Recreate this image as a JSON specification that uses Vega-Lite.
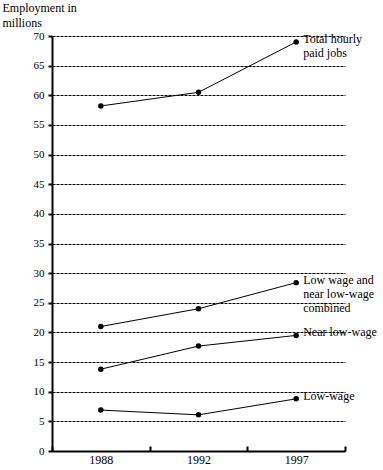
{
  "$schema": "https://vega.github.io/schema/vega-lite/v6.json",
  "width": 293,
  "height": 415,
  "autosize": {"type": "none"},
  "padding": {"left": 52, "top": 36, "right": 38, "bottom": 19},
  "background": "white",
  "config": {
    "view": {"stroke": null},
    "font": "Liberation Serif",
    "axis": {"labelFont": "Liberation Serif", "titleFont": "Liberation Serif", "labelColor": "black", "titleColor": "black", "domainColor": "black", "tickColor": "black"}
  },
  "data": {
    "values": [
      {"year": "1988", "series": "Total hourly paid jobs", "label": "Total hourly|paid jobs", "value": 58.2},
      {"year": "1992", "series": "Total hourly paid jobs", "label": "Total hourly|paid jobs", "value": 60.5},
      {"year": "1997", "series": "Total hourly paid jobs", "label": "Total hourly|paid jobs", "value": 69.0},
      {"year": "1988", "series": "Low wage and near low-wage combined", "label": "Low wage and|near low-wage|combined", "value": 21.0},
      {"year": "1992", "series": "Low wage and near low-wage combined", "label": "Low wage and|near low-wage|combined", "value": 24.0},
      {"year": "1997", "series": "Low wage and near low-wage combined", "label": "Low wage and|near low-wage|combined", "value": 28.4},
      {"year": "1988", "series": "Near low-wage", "label": "Near low-wage", "value": 13.8},
      {"year": "1992", "series": "Near low-wage", "label": "Near low-wage", "value": 17.7},
      {"year": "1997", "series": "Near low-wage", "label": "Near low-wage", "value": 19.5},
      {"year": "1988", "series": "Low-wage", "label": "Low-wage", "value": 6.9},
      {"year": "1992", "series": "Low-wage", "label": "Low-wage", "value": 6.1},
      {"year": "1997", "series": "Low-wage", "label": "Low-wage", "value": 8.8}
    ]
  },
  "encoding": {
    "x": {
      "field": "year", "type": "ordinal",
      "scale": {"paddingInner": 0, "paddingOuter": 0},
      "axis": {"title": null, "labelAngle": 0, "tickBand": "extent", "tickSize": -5, "domainWidth": 2, "tickWidth": 2, "labelFontSize": 12, "labelPadding": 8}
    },
    "y": {
      "field": "value", "type": "quantitative",
      "scale": {"domain": [0, 70], "nice": false},
      "axis": {
        "title": ["Employment in", "millions"],
        "titleAngle": 0, "titleAlign": "left", "titleBaseline": "top",
        "titleX": -50, "titleY": -34, "titleFontSize": 12, "titleFontWeight": "normal", "titleLineHeight": 15,
        "values": [0, 5, 10, 15, 20, 25, 30, 35, 40, 45, 50, 55, 60, 65, 70],
        "tickSize": 4, "tickWidth": 2, "domainWidth": 2, "labelFontSize": 11, "labelPadding": 4,
        "grid": true, "gridColor": "black", "gridDash": [3, 1], "gridWidth": 1, "gridOpacity": 1
      }
    }
  },
  "layer": [
    {
      "mark": {"type": "line", "color": "black", "strokeWidth": 1},
      "encoding": {"detail": {"field": "series"}}
    },
    {
      "mark": {"type": "point", "filled": true, "color": "black", "size": 30, "opacity": 1}
    },
    {
      "transform": [{"filter": "datum.year == '1997'"}],
      "mark": {"type": "text", "align": "left", "baseline": "top", "dx": 7, "dy": -8, "fontSize": 12, "lineHeight": 14, "lineBreak": "|", "color": "black"},
      "encoding": {
        "text": {"field": "label"}
      }
    }
  ]
}
